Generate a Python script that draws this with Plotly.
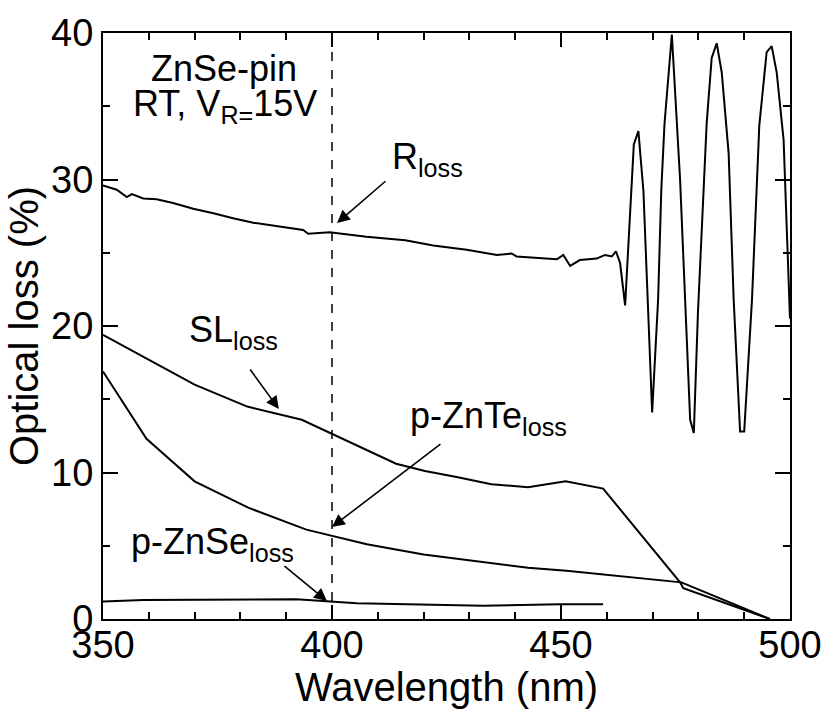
import plotly.graph_objects as go

# Reflection loss (R_loss) vs wavelength
r_wl = [350, 353.0, 355.2, 356.3, 358.8, 361.7, 365.3, 369.7, 374.1, 378.4, 382.8,
        388.6, 393.7, 394.8, 399.5, 407.5, 416.0, 422.1, 429.4, 436.0, 439.2, 440.3,
        449.1, 450.5, 452.0, 454.1, 457.8, 459.6, 461.1, 462.0, 462.9, 464.0, 465.9,
        466.9, 468.0, 469.9, 471.2, 471.9, 472.6, 474.2, 476.0, 478.2, 479.0, 479.9,
        481.8, 482.9, 484.0, 485.1, 486.6, 487.7, 489.1, 490.0, 491.7, 493.3, 494.9,
        496.0, 497.1, 498.6, 499.7, 500.0]
r_val = [29.6, 29.3, 28.8, 29.0, 28.7, 28.65, 28.4, 28.0, 27.7, 27.35, 27.05,
         26.8, 26.55, 26.3, 26.4, 26.1, 25.85, 25.5, 25.2, 24.85, 24.95, 24.75,
         24.55, 24.85, 24.1, 24.5, 24.6, 24.85, 24.75, 25.1, 24.3, 21.4, 32.4,
         33.3, 29.2, 14.1, 21.8, 29.3, 33.8, 39.9, 30.0, 13.6, 12.7, 20.9,
         33.8, 38.3, 39.3, 37.3, 31.8, 21.8, 12.8, 12.8, 21.8, 33.7, 38.7,
         39.1, 37.3, 32.7, 23.6, 20.5]

# Superlattice loss (SL_loss)
sl_wl = [350, 360, 370, 381.5, 388, 393.4, 414, 420.3, 427.2, 434.8, 442.8, 451, 459.2, 476.0, 476.7, 495.6]
sl_val = [19.4, 17.7, 16.0, 14.5, 14.0, 13.6, 10.6, 10.1, 9.7, 9.2, 9.0, 9.4, 8.9, 2.5, 2.1, 0.0]

# p-ZnTe layer loss
znte_wl = [350, 359.5, 370, 381.7, 394.4, 399.8, 407.6, 420, 427.9, 434.8, 442.8, 451.2, 459.2, 474.5, 476.3, 495.6]
znte_val = [16.9, 12.3, 9.4, 7.6, 6.1, 5.7, 5.1, 4.4, 4.1, 3.8, 3.5, 3.3, 3.05, 2.6, 2.5, 0.0]

# p-ZnSe layer loss
znse_wl = [350, 358.8, 392.2, 399.8, 405.4, 433, 449.8, 459.2]
znse_val = [1.2, 1.3, 1.35, 1.2, 1.07, 0.9, 1.0, 1.0]

FONT = "Liberation Sans, Arial, sans-serif"
LINE = dict(color="black", width=2)

fig = go.Figure()
for wl, val in [(r_wl, r_val), (sl_wl, sl_val), (znte_wl, znte_val), (znse_wl, znse_val)]:
    fig.add_trace(go.Scatter(x=wl, y=val, mode="lines", line=LINE,
                             showlegend=False, hoverinfo="skip"))

# vertical marker at 400 nm
fig.add_shape(type="line", x0=400, x1=400, y0=0, y1=40, xref="x", yref="y",
              line=dict(color="black", width=1.5, dash="dash"))

ann_font = dict(family=FONT, size=36, color="black")
labels = [
    (376.4, 37.6, "ZnSe-pin", "center"),
    (376.7, 35.0, "RT, V<sub>R=</sub>15V", "center"),
    (412.7, 31.4, "R<sub>loss</sub>", "left"),
    (368.3, 19.6, "SL<sub>loss</sub>", "left"),
    (416.6, 13.7, "p-ZnTe<sub>loss</sub>", "left"),
    (355.7, 5.1, "p-ZnSe<sub>loss</sub>", "left"),
]
for x, y, t, xa in labels:
    fig.add_annotation(x=x, y=y, text=t, showarrow=False, xanchor=xa, yanchor="middle",
                       font=ann_font, xref="x", yref="y")

# arrows: (tail x, tail y, head x, head y)
arrows = [
    (412.0, 29.97, 401.1, 27.03),
    (381.9, 17.13, 388.4, 14.33),
    (424.0, 12.01, 400.0, 6.28),
    (389.3, 3.69, 398.9, 1.23),
]
for tx, ty, hx, hy in arrows:
    fig.add_annotation(x=hx, y=hy, ax=tx, ay=ty, xref="x", yref="y", axref="x", ayref="y",
                       text="", showarrow=True, arrowhead=2, arrowsize=1.6,
                       arrowwidth=1.6, arrowcolor="black")

axis_common = dict(showline=True, linecolor="black", linewidth=2, mirror="allticks",
                   ticks="inside", tickcolor="black", tickwidth=1.5, showgrid=False,
                   zeroline=False, automargin=False, layer="above traces",
                   tickfont=dict(family=FONT, size=38, color="black"))

fig.update_xaxes(range=[350, 500], tickmode="linear", tick0=350, dtick=50, ticklen=14,
                 ticklabelstandoff=-9,
                 minor=dict(tickmode="linear", tick0=350, dtick=10, ticks="inside", ticklen=7,
                            tickcolor="black", tickwidth=1.5),
                 title=dict(text="Wavelength (nm)", font=dict(family=FONT, size=40, color="black"),
                            standoff=4),
                 **axis_common)
fig.update_yaxes(range=[0, 40], tickmode="linear", tick0=0, dtick=10, ticklen=15,
                 minor=dict(tickmode="linear", tick0=0, dtick=5, ticks="inside", ticklen=7,
                            tickcolor="black", tickwidth=1.5),
                 title=dict(text="Optical loss (%)", font=dict(family=FONT, size=40, color="black"),
                            standoff=0),
                 **axis_common)

fig.update_layout(width=826, height=709, margin=dict(l=103, r=36, t=33, b=90, autoexpand=False),
                  plot_bgcolor="white", paper_bgcolor="white")

fig.write_html("out.html")
